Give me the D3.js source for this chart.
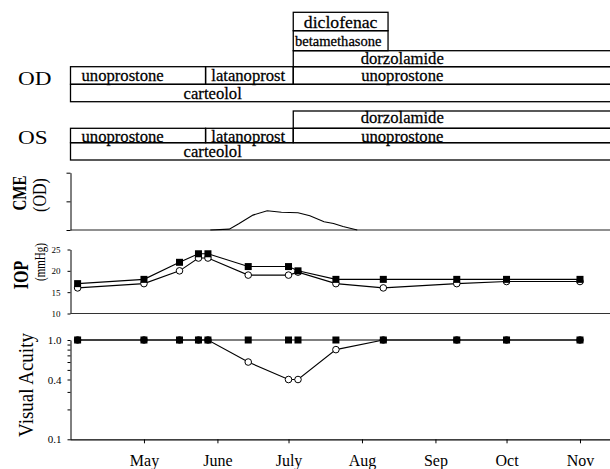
<!DOCTYPE html>
<html><head><meta charset="utf-8">
<script src="https://cdn.jsdelivr.net/npm/d3@7"></script>
<style>
body{margin:0;background:#fff}
svg{display:block;font-family:"Liberation Serif","Times New Roman",serif}
</style>
</head><body>
<svg id="c" width="610" height="469"></svg>
<script>
// ---------- data ----------
const visitDates = ["2001-04-03","2001-05-01","2001-05-16","2001-05-24","2001-05-28","2001-06-14","2001-07-01","2001-07-05","2001-07-21","2001-08-10","2001-09-10","2001-10-01","2001-11-01"];
const iopOD = [16, 17, 20, 23, 23, 19, 19, 19.7, 17, 16, 17, 17.5, 17.5];   // open circles
const iopOS = [17, 18, 22, 24, 24, 21, 21, 20, 18, 18, 18, 18, 18];          // filled squares
const vaOD  = [1.0, 1.0, 1.0, 1.0, 1.0, 0.6, 0.4, 0.4, 0.8, 1.0, 1.0, 1.0, 1.0];
const vaOS  = [1.0, 1.0, 1.0, 1.0, 1.0, 1.0, 1.0, 1.0, 1.0, 1.0, 1.0, 1.0, 1.0];
const cmeDates  = ["2001-05-29","2001-06-06","2001-06-10","2001-06-16","2001-06-22","2001-06-28","2001-07-05","2001-07-10","2001-07-16","2001-07-20","2001-07-24","2001-07-30"];
const cmeValues = [0, 0.03, 0.22, 0.52, 0.67, 0.62, 0.6, 0.5, 0.29, 0.23, 0.12, 0];
const iopTicks = [10, 15, 20, 25];
const vaTicks = [0.1, 0.2, 0.3, 0.4, 0.5, 0.6, 0.7, 0.8, 0.9, 1.0];
const vaTickLabels = [0.1, 0.4, 1.0];
const monthTicks = ["2001-05-01","2001-06-01","2001-07-01","2001-08-01","2001-09-01","2001-10-01","2001-11-01"];
const monthLabels = ["May","June","July","Aug","Sep","Oct","Nov"];
// treatments: [drug, start, end, layer, label date]
const odTreatments = [
  ["carteolol","2001-03-31","2001-11-30",0,"2001-05-30"],
  ["unoprostone","2001-03-31","2001-05-27",1,"2001-04-22"],
  ["latanoprost","2001-05-27","2001-07-03",1,"2001-06-14"],
  ["unoprostone","2001-07-03","2001-11-30",1,"2001-08-18"],
  ["dorzolamide","2001-07-03","2001-11-30",2,"2001-08-18"],
  ["betamethasone","2001-07-03","2001-08-12",3,"2001-07-22"],
  ["diclofenac","2001-07-03","2001-08-12",4,"2001-07-23"]
];
const osTreatments = [
  ["carteolol","2001-03-31","2001-11-30",0,"2001-05-30"],
  ["unoprostone","2001-03-31","2001-05-27",1,"2001-04-22"],
  ["latanoprost","2001-05-27","2001-07-03",1,"2001-06-14"],
  ["unoprostone","2001-07-03","2001-11-30",1,"2001-08-18"],
  ["dorzolamide","2001-07-03","2001-11-30",2,"2001-08-18"]
];

// ---------- layout ----------
const parse = d3.utcParse("%Y-%m-%d");
const svg = d3.select("#c");
const x = d3.scaleUtc().domain([parse("2001-03-31"), parse("2001-11-14")]).range([70.5, 610.8]);
const X0 = x.range()[0], X1 = 610;
const odEdges = [101.7, 84.3, 66.7, 50.7, 30.7, 12.3];
const osEdges = [160, 142.7, 128.3, 111];
const odShift = [0, 0, 0, 0, 0];
const osShift = [0, 0.5, -2.8];
const labelSize = {betamethasone: 14, diclofenac: 17};

function drawTreatments(list, edges, shift){
  const g = svg.append("g");
  const sel = g.selectAll("g").data(list).join("g");
  sel.append("rect")
    .attr("x", d => x(parse(d[1])))
    .attr("y", d => edges[d[3]+1])
    .attr("width", d => x(parse(d[2])) - x(parse(d[1])))
    .attr("height", d => edges[d[3]] - edges[d[3]+1])
    .attr("fill","none").attr("stroke","#000").attr("stroke-width",1.3);
  sel.append("text")
    .attr("transform", d => `translate(${x(parse(d[4]))},${(edges[d[3]] + edges[d[3]+1]) / 2 + shift[d[3]]}) scale(1.04,1)`)
    .attr("dy","0.36em").attr("text-anchor","middle")
    .attr("font-size", d => labelSize[d[0]] || 16)
    .attr("stroke","#000").attr("stroke-width",0.25)
    .text(d => d[0]);
}
drawTreatments(odTreatments, odEdges, odShift);
drawTreatments(osTreatments, osEdges, osShift);
svg.append("text").attr("transform","translate(18,85) scale(1.22,1)").attr("font-size",19).text("OD");
svg.append("text").attr("transform","translate(18,144) scale(1.22,1)").attr("font-size",19).text("OS");

function vlabel(txt, cx, cy, size, weight, sy){
  svg.append("text").attr("transform",`translate(${cx},${cy}) rotate(-90) scale(1,${sy||1})`)
    .attr("text-anchor","middle").attr("dy","0.35em")
    .attr("font-size",size).attr("font-weight",weight||"normal").text(txt);
}

// ---------- CME panel ----------
const yC = d3.scaleLinear().domain([0,2]).range([230,172.7]);
svg.append("g").attr("transform",`translate(${X0},0)`)
  .call(d3.axisLeft(yC).tickValues([0,1,2]).tickSize(4).tickSizeOuter(0).tickFormat(""))
  .call(g => g.selectAll("path,line").attr("stroke","#000"));
svg.append("line").attr("x1",X0).attr("x2",X1).attr("y1",yC(0)).attr("y2",yC(0)).attr("stroke","#222").attr("stroke-width",1.2);
svg.append("path").datum(cmeDates.map((d,i)=>[parse(d), cmeValues[i]]))
  .attr("fill","none").attr("stroke","#000").attr("stroke-width",1.1)
  .attr("d", d3.line().x(d=>x(d[0])).y(d=>yC(d[1])));
vlabel("CME", 19, 193, 15, "bold", 1.3);
vlabel("(OD)", 40, 195, 16, "normal", 1.15);

// ---------- IOP panel ----------
const yI = d3.scaleLinear().domain([10,25]).range([313.5,249.5]);
svg.append("g").attr("transform",`translate(${X0},0)`)
  .call(d3.axisLeft(yI).tickValues(iopTicks).tickSize(3).tickSizeOuter(0).tickPadding(7))
  .call(g => { g.selectAll("path,line").attr("stroke","#000"); g.selectAll("text").attr("font-family","Liberation Serif").attr("font-size",9).attr("fill","#000"); });
svg.append("line").attr("x1",X0).attr("x2",X1).attr("y1",yI(10)).attr("y2",yI(10)).attr("stroke","#333").attr("stroke-width",1.2);
vlabel("IOP", 20, 275, 16, "bold", 1.35);
vlabel("(mmHg)", 40, 262, 11, "normal", 1.35);

// ---------- VA panel ----------
const yV = d3.scaleLog().domain([0.1,1]).range([439.3,340]);
svg.append("g").attr("transform",`translate(${X0},0)`)
  .call(d3.axisLeft(yV).tickValues(vaTicks).tickSize(3).tickSizeOuter(0).tickPadding(6)
        .tickFormat(v => vaTickLabels.some(t => Math.abs(t-v) < 1e-9) ? d3.format(".1f")(v) : ""))
  .call(g => { g.selectAll("path,line").attr("stroke","#000"); g.selectAll("text").attr("font-family","Liberation Serif").attr("font-size",11).attr("fill","#000"); });
svg.append("g").attr("transform",`translate(0,${yV(0.1)})`)
  .call(d3.axisBottom(x).tickValues(monthTicks.map(parse)).tickSize(4).tickSizeOuter(0).tickPadding(11)
        .tickFormat((d,i) => monthLabels[i]))
  .call(g => { g.select(".domain").attr("d", `M${X0},0.5H${X1}`).attr("stroke","#000").attr("stroke-width",1.3);
               g.selectAll("line").attr("stroke","#000");
               g.selectAll("text").attr("font-family","Liberation Serif").attr("font-size",16).attr("fill","#000"); });
vlabel("Visual Acuity", 26, 385, 19, "normal", 1.1);

// ---------- series ----------
function series(yScale, vals, kind){
  const pts = visitDates.map((d,i)=>[x(parse(d)), yScale(vals[i])]);
  svg.append("path").attr("d", d3.line()(pts)).attr("fill","none").attr("stroke","#000").attr("stroke-width",1.1);
  if (kind === "circle") {
    svg.append("g").selectAll("circle").data(pts).join("circle")
      .attr("cx",d=>d[0]).attr("cy",d=>d[1]).attr("r",3.3)
      .attr("fill","#fff").attr("stroke","#000").attr("stroke-width",1);
  } else {
    svg.append("g").selectAll("rect").data(pts).join("rect")
      .attr("x",d=>d[0]-3.5).attr("y",d=>d[1]-3.5).attr("width",7).attr("height",7).attr("fill","#000");
  }
}
series(yI, iopOD, "circle");
series(yI, iopOS, "square");
series(yV, vaOD, "circle");
series(yV, vaOS, "square");
</script>
</body></html>
